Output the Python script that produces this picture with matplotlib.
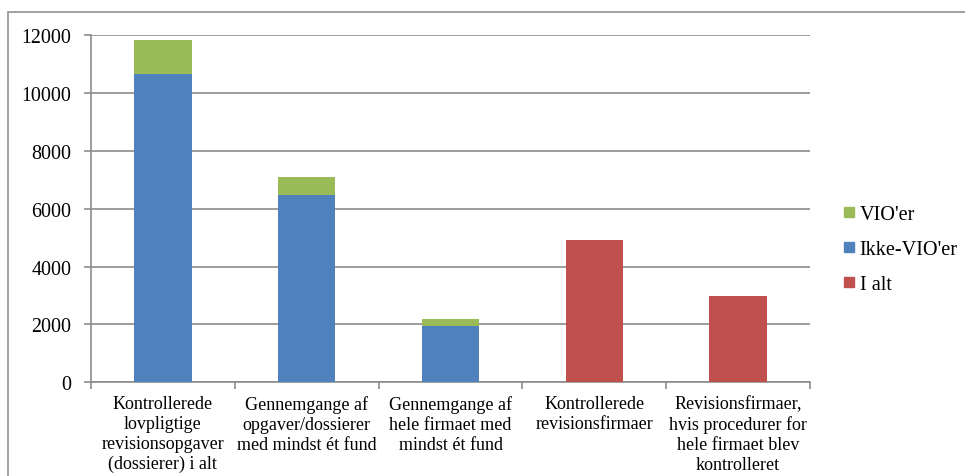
import matplotlib
matplotlib.use("Agg")
import matplotlib.pyplot as plt
from matplotlib.patches import Rectangle
from matplotlib.lines import Line2D
import numpy as np

plt.rcParams['font.family'] = ['Liberation Serif', 'DejaVu Serif']

categories = [
    "Kontrollerede\nlovpligtige\nrevisionsopgaver\n(dossierer) i alt",
    "Gennemgange af\nopgaver/dossierer\nmed mindst ét fund",
    "Gennemgange af\nhele firmaet med\nmindst ét fund",
    "Kontrollerede\nrevisionsfirmaer",
    "Revisionsfirmaer,\nhvis procedurer for\nhele firmaet blev\nkontrolleret",
]
ikke_vio = [10670, 6480, 1960, 0, 0]
vio = [1150, 630, 220, 0, 0]
i_alt = [0, 0, 0, 4930, 2980]
yticks = [0, 2000, 4000, 6000, 8000, 10000, 12000]

c_green = "#9BBB59"
c_blue = "#4F81BD"
c_red = "#C0504D"
c_grid = "#8c8c8c"

fig = plt.figure(figsize=(9.65, 4.77), dpi=100)
ax = fig.add_axes([0.0943, 0.1964, 0.7451, 0.7281])

x = np.arange(len(categories))
w = 0.4
ax.bar(x, ikke_vio, w, color=c_blue, zorder=3)
ax.bar(x, vio, w, bottom=ikke_vio, color=c_green, zorder=3)
ax.bar(x, i_alt, w, color=c_red, zorder=3)

ax.set_xlim(-0.5, len(categories) - 0.5)
ax.set_ylim(0, 12000)
ax.set_yticks(yticks)
ax.set_yticklabels([str(v) for v in yticks])
ax.yaxis.grid(True, color=c_grid, linewidth=1.2, zorder=0)
ax.set_axisbelow(True)

ax.set_xticks(x)
ax.set_xticklabels(categories, fontsize=13, linespacing=1.23, va='top')
ax.set_xticks(np.arange(len(categories) + 1) - 0.5, minor=True)
ax.tick_params(axis='x', which='major', length=0, pad=9)
ax.tick_params(axis='x', which='minor', length=5, color=c_grid, width=1.2)
ax.tick_params(axis='y', length=5, color=c_grid, width=1.2, labelsize=14.4, pad=9)

for s in ('top', 'right'):
    ax.spines[s].set_visible(False)
for s in ('left', 'bottom'):
    ax.spines[s].set_color(c_grid)
    ax.spines[s].set_linewidth(1.2)

# outer chart frame
fig.patches.append(Rectangle((8 / 965, -0.1), 1.2, 1 - 13 / 477 + 0.1,
                             transform=fig.transFigure, fill=False,
                             edgecolor="#9a9a9a", linewidth=1.3))

handles = [
    Line2D([], [], marker='s', linestyle='none', markersize=7, color=c_green),
    Line2D([], [], marker='s', linestyle='none', markersize=7, color=c_blue),
    Line2D([], [], marker='s', linestyle='none', markersize=7, color=c_red),
]
fig.legend(handles, ["VIO'er", "Ikke-VIO'er", "I alt"], loc='upper left',
           bbox_to_anchor=(0.874, 0.568), frameon=False, fontsize=14.6,
           handlelength=0.6, handletextpad=0.2, labelspacing=0.78,
           borderpad=0, borderaxespad=0)

fig.savefig("out.png", dpi=100)
